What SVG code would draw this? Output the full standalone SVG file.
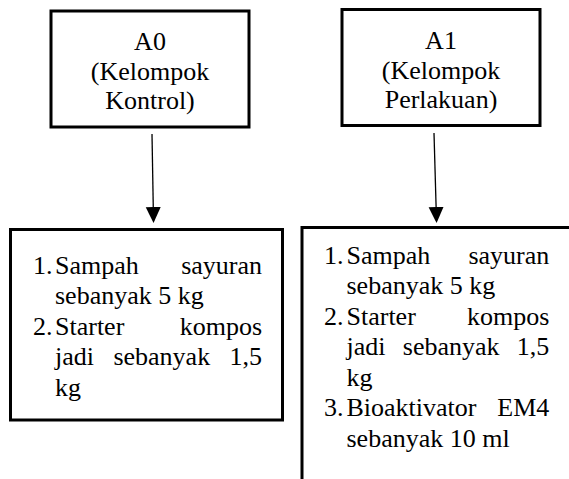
<svg xmlns="http://www.w3.org/2000/svg" width="569" height="479" viewBox="0 0 569 479" font-family="Times New Roman, Liberation Serif, serif" font-size="26">
<style>
.box{fill:#fff;stroke:#000;stroke-width:3}
.conn{stroke:#000;stroke-width:1.3;fill:none}
</style>
<defs>
<marker id="ah" markerUnits="userSpaceOnUse" markerWidth="16" markerHeight="16" viewBox="0 0 16 16" refX="14" refY="8" orient="auto">
<path d="M0,0.5 L16,8 L0,15.5 z" fill="#000"/>
</marker>
</defs>
<rect width="569" height="479" fill="#fff"/>
<g id="connectors">
<line class="conn" x1="152" y1="134" x2="153.5" y2="221" marker-end="url(#ah)"/>
<line class="conn" x1="434" y1="133" x2="436.5" y2="221" marker-end="url(#ah)"/>
</g>
<g id="A0" text-anchor="middle">
<rect class="box" x="51" y="11" width="198" height="116"/>
<text x="150" y="50">A0</text>
<text x="150" y="79.5">(Kelompok</text>
<text x="150" y="109">Kontrol)</text>
</g>
<g id="A1" text-anchor="middle">
<rect class="box" x="342" y="9.5" width="198" height="116"/>
<text x="441" y="49">A1</text>
<text x="441" y="78.5">(Kelompok</text>
<text x="441" y="108">Perlakuan)</text>
</g>
<g id="list0">
<rect class="box" x="10.5" y="229.5" width="272" height="190.5"/>
<text x="33" y="273.5">1.</text>
<text x="55" y="273.5">Sampah</text>
<text x="262" y="273.5" text-anchor="end">sayuran</text>
<text x="55" y="304">sebanyak 5 kg</text>
<text x="33" y="334.5">2.</text>
<text x="55" y="334.5">Starter</text>
<text x="262" y="334.5" text-anchor="end">kompos</text>
<text x="55" y="365">jadi</text>
<text x="113.4" y="365">sebanyak</text>
<text x="262" y="365" text-anchor="end">1,5</text>
<text x="55" y="395.5">kg</text>
</g>
<g id="list1">
<rect class="box" x="302" y="227.5" width="300" height="300"/>
<text x="324" y="263.5">1.</text>
<text x="346.5" y="263.5">Sampah</text>
<text x="549.3" y="263.5" text-anchor="end">sayuran</text>
<text x="346.5" y="294">sebanyak 5 kg</text>
<text x="324" y="324.5">2.</text>
<text x="346.5" y="324.5">Starter</text>
<text x="549.3" y="324.5" text-anchor="end">kompos</text>
<text x="346.5" y="355">jadi</text>
<text x="402.8" y="355">sebanyak</text>
<text x="549.3" y="355" text-anchor="end">1,5</text>
<text x="346.5" y="385.5">kg</text>
<text x="324" y="416">3.</text>
<text x="346.5" y="416">Bioaktivator</text>
<text x="549.3" y="416" text-anchor="end">EM4</text>
<text x="346.5" y="446.5">sebanyak 10 ml</text>
</g>
</svg>
